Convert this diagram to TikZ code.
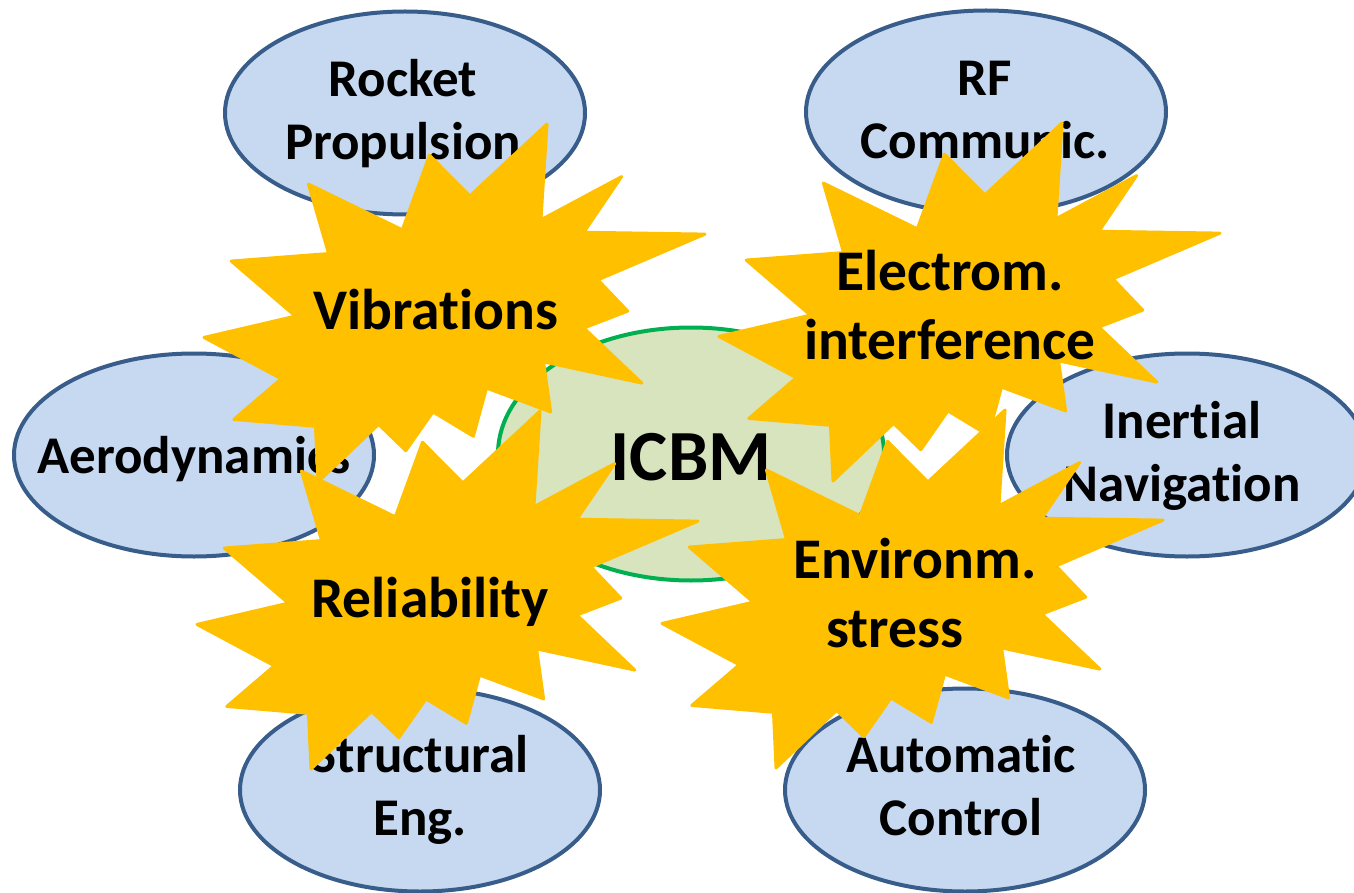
\documentclass[tikz,border=0pt]{standalone}
\usepackage{fontspec}
\setmainfont{Carlito}[Ligatures={NoCommon,NoContextual}]
\usetikzlibrary{shapes.geometric}

\definecolor{discfill}{HTML}{C6D9F1}
\definecolor{discline}{HTML}{385D8A}
\definecolor{corefill}{HTML}{D7E4BD}
\definecolor{coreline}{HTML}{00B050}
\definecolor{burst}{HTML}{FFC000}

\tikzset{
  disc/.style={ellipse, draw=discline, fill=discfill, line width=4pt,
    minimum width=360pt, minimum height=203pt, inner sep=0pt},
  core/.style={ellipse, draw=coreline, fill=corefill, line width=4pt,
    minimum width=386pt, minimum height=253pt, inner sep=0pt},
  % labels are centred on the middle of their first and last baselines
  lbl/.style={align=center, inner sep=0pt, text=black,
    execute at begin node={\rule{0pt}{0.8em}},
    execute at end node={\rule[-0.8em]{0pt}{0.8em}}},
  disclbl/.style={lbl, font=\bfseries\fontsize{53}{63}\selectfont},
  burstlbl/.style={lbl, font=\bfseries\fontsize{57.5}{69}\selectfont},
  corelbl/.style={lbl, font=\bfseries\fontsize{72}{86}\selectfont},
  burstfill/.style={fill=burst, draw=burst, line width=3pt, line join=round}
}

% explosion outline: #1,#2 = top-left corner, #3 = width, #4 = height
\newcommand\explosion[4]{%
  \begin{scope}[shift={(#1,#2)}, x=#3pt, y=-#4pt]
    \filldraw[burstfill]
      (0.5306,0.2010) -- (0.6847,0) -- (0.6725,0.2675) -- (0.8336,0.1469)
      -- (0.7583,0.3024) -- (1,0.3076) -- (0.7863,0.4353) -- (0.8458,0.5227)
      -- (0.7583,0.5699) -- (0.8739,0.7237) -- (0.6778,0.6644) -- (0.6918,0.8042)
      -- (0.5639,0.7377) -- (0.5376,0.8723) -- (0.4570,0.8042) -- (0.4028,0.9126)
      -- (0.3485,0.8391) -- (0.2276,1) -- (0.2225,0.8444) -- (0.0595,0.8252)
      -- (0.1542,0.7116) -- (0,0.5962) -- (0.1822,0.5367) -- (0.0543,0.3829)
      -- (0.2487,0.3619) -- (0.2084,0.1678) -- (0.3958,0.2955) -- (0.4501,0.0874)
      -- cycle;
  \end{scope}}

\begin{document}
\begin{tikzpicture}[x=1pt, y=-1pt]
  \useasboundingbox (0,0) rectangle (1354,893);
  \clip (0,0) rectangle (1354,893);
  \fill[white] (0,0) rectangle (1354,893);

  % discipline ellipses
  \node[disc] (rocket)     at (405,113) {};
  \node[disc] (rf)         at (986,112) {};
  \node[disc] (aero)       at (194,455) {};
  \node[disc] (inertial)   at (1187,455) {};
  \node[disc] (structural) at (420,790) {};
  \node[disc] (automatic)  at (965,790) {};
  \node[core] (icbm)       at (691,454) {};

  \node[disclbl] (rocketT)     at (403,131) {Rocket\\Propulsion};
  \node[disclbl] (rfT)         at (985,131) {RF\\Communic.};
  \node[disclbl] (aeroT)       at (194,473)   {Aerodynamics};
  \node[disclbl] (inertialT)   at (1182,473)  {Inertial\\Navigation};
  \node[disclbl] (structuralT) at (420,806.5) {Structural\\Eng.};
  \node[disclbl] (automaticT)  at (961,806.5) {Automatic\\Control};
  \node[corelbl] (icbmT)       at (691,480)   {ICBM};

  % disturbance bursts
  \explosion{204}{124}{501}{358}
  \explosion{719}{123}{501}{358}
  \explosion{197}{411}{501}{358}
  \explosion{662}{410}{501}{358}

  \node[burstlbl] (vibT)  at (436,329)   {Vibrations};
  \node[burstlbl] (emiT)  at (950,327.5) {Electrom.\\interference};
  \node[burstlbl] (relT)  at (430,617)   {Reliability};
  \node[burstlbl] (envT)  at (915,615.5) {Environm.\\stress\kern40pt};
\end{tikzpicture}
\end{document}
